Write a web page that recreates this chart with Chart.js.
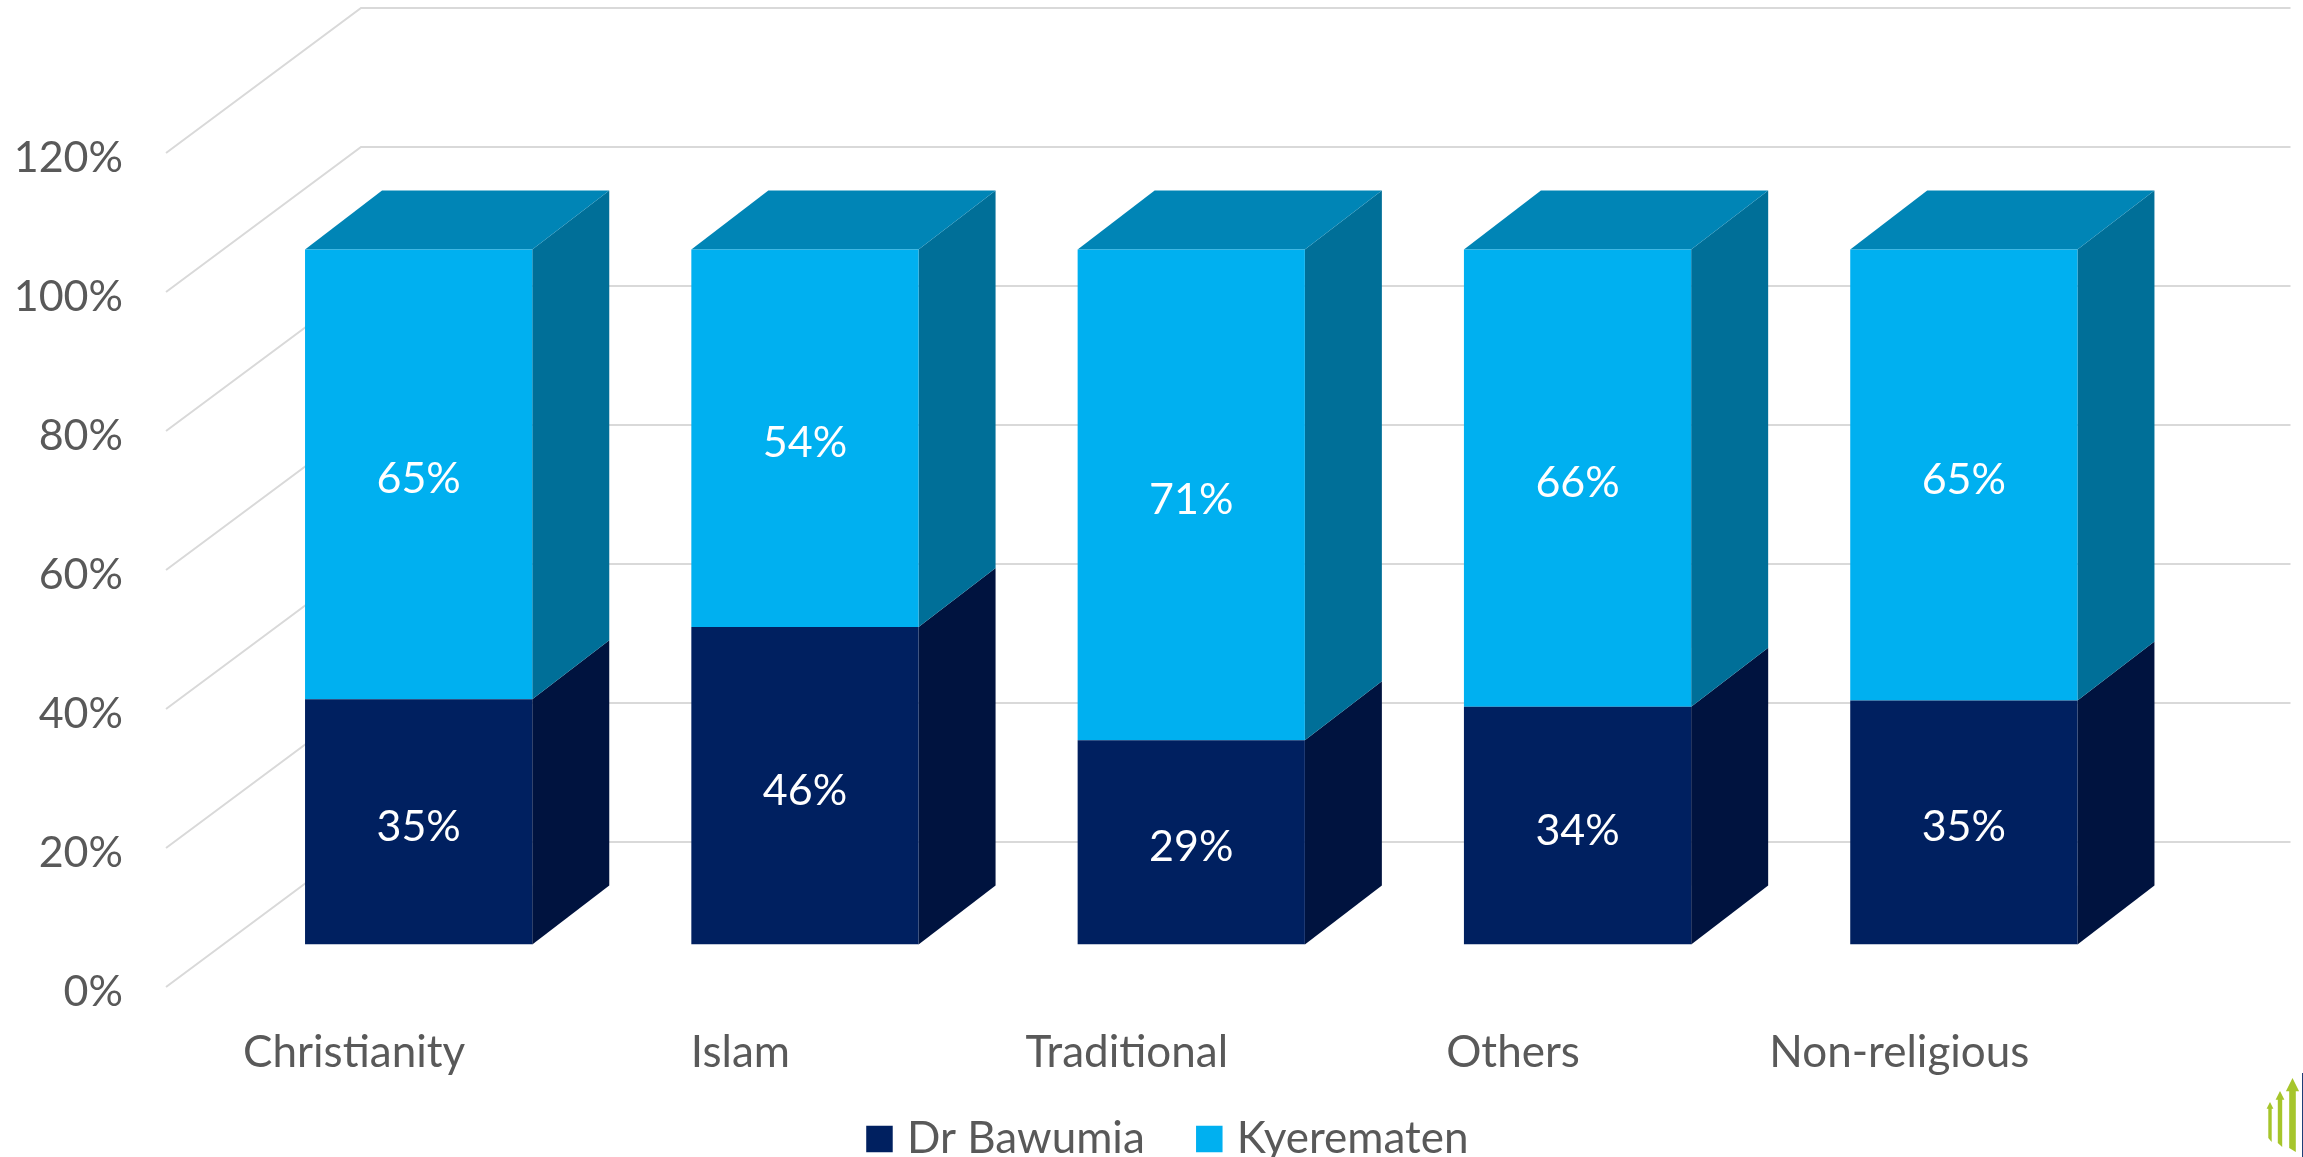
<!DOCTYPE html>
<html lang="en">
<head>
<meta charset="UTF-8">
<title>Dr Bawumia vs Kyerematen by religion</title>
<style>
    html, body { margin: 0; padding: 0; background: #fff; overflow: hidden; }
    #wrap { width: 2303px; height: 1157px; }
</style>
<script src="https://cdn.jsdelivr.net/npm/chart.js"></script>
</head>
<body>
<div id="wrap"><canvas id="chart" width="2303" height="1157"></canvas></div>
<script>
const categories = ['Christianity', 'Islam', 'Traditional', 'Others', 'Non-religious'];
const bawumia = [35.3, 45.7, 29.4, 34.2, 35.1];
const kyerematen = [64.7, 54.3, 70.6, 65.8, 64.9];
const yTicks = [0, 20, 40, 60, 80, 100, 120];

const FONT = 'Lato, "Open Sans", sans-serif';
const TEXT = '#595959';
const GRID = '#D9D9D9';
// depth of the floor/walls, and where the bars sit inside that depth
const WALL = { inset: 5, dx: 195, dy: 145 };
const BAR_SHIFT = { x: 64.5, y: -42.5 };
const BAR_DEPTH = { dx: 77, dy: 59 };
const SHADES = [
    { front: '#002060', side: '#00133F', top: '#00133F' },
    { front: '#00B0F0', side: '#006F98', top: '#0085B6' }
];

function poly(ctx, pts, fill) {
    ctx.fillStyle = fill;
    ctx.beginPath();
    pts.forEach((p, i) => i ? ctx.lineTo(p[0], p[1]) : ctx.moveTo(p[0], p[1]));
    ctx.closePath();
    ctx.fill();
}

const wallsPlugin = {
    id: 'walls',
    beforeDatasetsDraw(chart) {
        const { ctx, scales: { x, y } } = chart;
        ctx.save();
        ctx.strokeStyle = GRID;
        ctx.lineWidth = 2;
        yTicks.forEach(v => {
            const py = y.getPixelForValue(v);
            const left = x.left + WALL.inset;
            ctx.beginPath();
            ctx.moveTo(left, py);
            ctx.lineTo(left + WALL.dx, py - WALL.dy);
            ctx.lineTo(x.right + WALL.dx + 3, py - WALL.dy);
            ctx.stroke();
        });
        ctx.restore();

        // bars stand in the middle of the floor, so shift them off the axis plane
        ctx.save();
        ctx.translate(BAR_SHIFT.x, BAR_SHIFT.y);
        chart.data.datasets.forEach((ds, d) => {
            const bars = chart.getDatasetMeta(d).data;
            bars.forEach(bar => {
                const l = bar.x - bar.width / 2, r = bar.x + bar.width / 2;
                const { dx, dy } = BAR_DEPTH;
                poly(ctx, [[r, bar.y], [r, bar.base], [r + dx, bar.base - dy], [r + dx, bar.y - dy]], SHADES[d].side);
                if (d === chart.data.datasets.length - 1) {
                    poly(ctx, [[l, bar.y], [r, bar.y], [r + dx, bar.y - dy], [l + dx, bar.y - dy]], SHADES[d].top);
                }
            });
        });
    },
    afterDatasetsDraw(chart) {
        const { ctx } = chart;
        ctx.fillStyle = '#fff';
        ctx.font = '43px ' + FONT;
        ctx.textAlign = 'center';
        ctx.textBaseline = 'middle';
        chart.data.datasets.forEach((ds, d) => {
            chart.getDatasetMeta(d).data.forEach((bar, i) => {
                ctx.fillText(Math.round(ds.data[i]) + '%', bar.x, (bar.y + bar.base) / 2 + 5);
            });
        });
        ctx.restore();
    },
    afterLayout(chart) {
        // the legend sits right of centre in the reference, on the bottom edge
        chart.legend.left += 125;
        chart.legend.right += 125;
        chart.legend.top = 1058;
    },
    afterDraw(chart) {
        // small logo in the bottom right corner
        const { ctx } = chart;
        [[2270, 1102, 1140, 1.7], [2280, 1091, 1145, 2.2], [2292.5, 1078, 1150, 3.3]].forEach(a => {
            const [cx, tip, end, w] = a;
            const neck = tip + w * 4;
            poly(ctx, [[cx, tip], [cx + w * 2, neck], [cx + w, neck], [cx + w, end + 2],
                [cx - w, end - 2], [cx - w, neck], [cx - w * 2, neck]], '#A6C52B');
        });
        ctx.fillStyle = '#1F3F77';
        ctx.fillRect(2302, 1073, 1, 84);
    }
};

// swatches are widened with a same-colour border so the text stays close to them
const baseLabels = Chart.defaults.plugins.legend.labels.generateLabels;

new Chart(document.getElementById('chart'), {
    type: 'bar',
    data: {
        labels: categories,
        datasets: [
            { label: 'Dr Bawumia', data: bawumia, backgroundColor: SHADES[0].front, borderWidth: 0 },
            { label: 'Kyerematen', data: kyerematen, backgroundColor: SHADES[1].front, borderWidth: 0 }
        ]
    },
    options: {
        responsive: false,
        animation: false,
        categoryPercentage: 1 / 1.7,
        barPercentage: 1,
        layout: { padding: { top: 153, right: 210.5, left: 0, bottom: 0 } },
        plugins: {
            tooltip: { enabled: false },
            legend: {
                position: 'bottom',
                maxHeight: 70,
                labels: {
                    color: TEXT,
                    font: { family: FONT, size: 44 },
                    boxWidth: 11,
                    boxHeight: 11,
                    padding: 59,
                    generateLabels: chart => baseLabels(chart).map(item => ({
                        ...item,
                        lineWidth: 15.5,
                        strokeStyle: item.fillStyle
                    }))
                }
            }
        },
        scales: {
            x: {
                stacked: true,
                grid: { display: false, drawTicks: false },
                border: { display: false },
                ticks: { color: TEXT, font: { family: FONT, size: 44 }, padding: 39, maxRotation: 0 },
                afterFit: s => { s.height = 100; }
            },
            y: {
                stacked: true,
                min: 0,
                max: 120,
                grid: { display: false, drawTicks: false },
                border: { display: false },
                ticks: { stepSize: 20, color: TEXT, font: { family: FONT, size: 43 }, padding: 38, labelOffset: 5, callback: v => v + '%' },
                afterFit: s => { s.width = 161; }
            }
        }
    },
    plugins: [wallsPlugin]
});
</script>
</body>
</html>
